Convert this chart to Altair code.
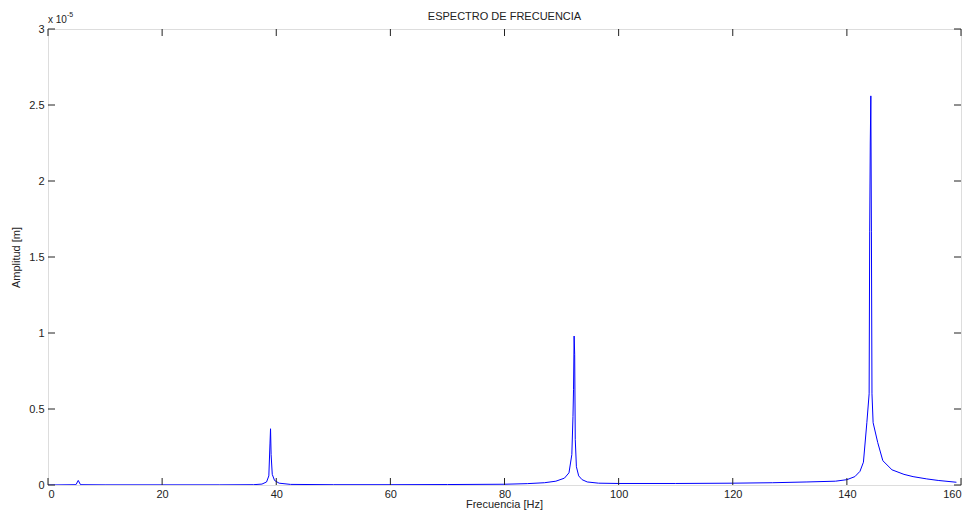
import altair as alt
import pandas as pd

# Spectrum (amplitude in units of 1e-5 m)
freq_hz = [0, 4.9, 5.3, 5.7, 10, 20, 30, 36.0, 37.5, 38.3, 38.7, 38.9, 39.0, 39.1, 39.3, 39.7,
           40.5, 42.5, 50, 60, 70, 80, 84, 87, 89, 90.5, 91.3, 91.8, 92.0, 92.1, 92.2, 92.3,
           92.4, 92.6, 93.0, 93.6, 94.5, 96.5, 100, 110, 120, 127, 133, 138, 140, 141.4, 142.3,
           142.9, 143.5, 143.9, 144.0, 144.1, 144.2, 144.3, 144.4, 144.6, 145.4, 146.3, 147.9,
           150, 151.6, 154, 156, 159.2]
amp_e5 = [0.0, 0.002, 0.03, 0.002, 0.001, 0.001, 0.001, 0.002, 0.006, 0.02, 0.06, 0.27, 0.37,
          0.2, 0.07, 0.03, 0.012, 0.004, 0.002, 0.002, 0.003, 0.005, 0.009, 0.015, 0.025, 0.045,
          0.08, 0.2, 0.45, 0.63, 0.98, 0.86, 0.3, 0.12, 0.06, 0.035, 0.02, 0.012, 0.01, 0.01,
          0.012, 0.015, 0.02, 0.025, 0.035, 0.055, 0.09, 0.15, 0.41, 0.6, 1.67, 2.25, 2.56,
          1.67, 0.6, 0.41, 0.28, 0.16, 0.1, 0.07, 0.055, 0.04, 0.03, 0.018]

x_ticks = [0, 20, 40, 60, 80, 100, 120, 140, 160]
y_ticks = [0, 0.5, 1, 1.5, 2, 2.5, 3]

W, H = 913, 456
FONT = "Liberation Sans"
TICK_LEN = 7
INK = "#222222"

df = pd.DataFrame({"f": freq_hz, "a": amp_e5})
xt = pd.DataFrame({"t": x_ticks})
yt = pd.DataFrame({"t": y_ticks})

xs = alt.Scale(domain=[0, 160], nice=False, zero=False)
ys = alt.Scale(domain=[0, 3], nice=False, zero=False)

xa = alt.Axis(values=x_ticks, title="", ticks=False, tickSize=0, domain=False,
              grid=False, labelPadding=3, labelFontSize=11, labelFont=FONT, labelColor=INK,
              format="d")
ya = alt.Axis(values=y_ticks, title="Amplitud [m]", ticks=False, tickSize=0, domain=False,
              grid=False, labelPadding=4, labelFontSize=11, labelFont=FONT, labelColor=INK,
              titleFont=FONT, titleFontSize=11, titleFontWeight="normal", titleColor=INK,
              titlePadding=7, format="~g")

line = alt.Chart(df).mark_line(color="#0000ff", strokeWidth=1, clip=True).encode(
    x=alt.X("f:Q", scale=xs, axis=xa),
    y=alt.Y("a:Q", scale=ys, axis=ya),
)

tick_x_bottom = alt.Chart(xt).mark_rule(color=INK, strokeWidth=1).encode(
    x=alt.X("t:Q", scale=xs, axis=xa), y=alt.value(H - TICK_LEN), y2=alt.value(H))
tick_x_top = alt.Chart(xt).mark_rule(color=INK, strokeWidth=1).encode(
    x=alt.X("t:Q", scale=xs, axis=xa), y=alt.value(0), y2=alt.value(TICK_LEN))
tick_y_left = alt.Chart(yt).mark_rule(color=INK, strokeWidth=1).encode(
    y=alt.Y("t:Q", scale=ys, axis=ya), x=alt.value(0), x2=alt.value(TICK_LEN))
tick_y_right = alt.Chart(yt).mark_rule(color=INK, strokeWidth=1).encode(
    y=alt.Y("t:Q", scale=ys, axis=ya), x=alt.value(W - TICK_LEN), x2=alt.value(W))

def label(text, x, y, size=11, align="left"):
    return alt.Chart(pd.DataFrame({"s": [text]})).mark_text(
        font=FONT, fontSize=size, align=align, baseline="alphabetic", color=INK).encode(
        text="s:N", x=alt.value(x), y=alt.value(y))

exp_base = label("x 10", 0, -6, size=10)
exp_pow = label("-5", 19, -12, size=7)
title = label("ESPECTRO DE FRECUENCIA", W / 2, -9, align="center")
x_title = label("Frecuencia [Hz]", W / 2, H + 23, align="center")

chart = alt.layer(line, tick_x_bottom, tick_x_top, tick_y_left, tick_y_right,
                  exp_base, exp_pow, title, x_title).properties(
    width=W, height=H,
    padding={"left": 40, "top": 21, "right": 3, "bottom": 26},
    autosize=alt.AutoSizeParams(type="none"),
).configure_view(stroke=INK, strokeWidth=1).configure(background="white")

chart.save("out.html", embed_options={"renderer": "svg", "actions": False})
